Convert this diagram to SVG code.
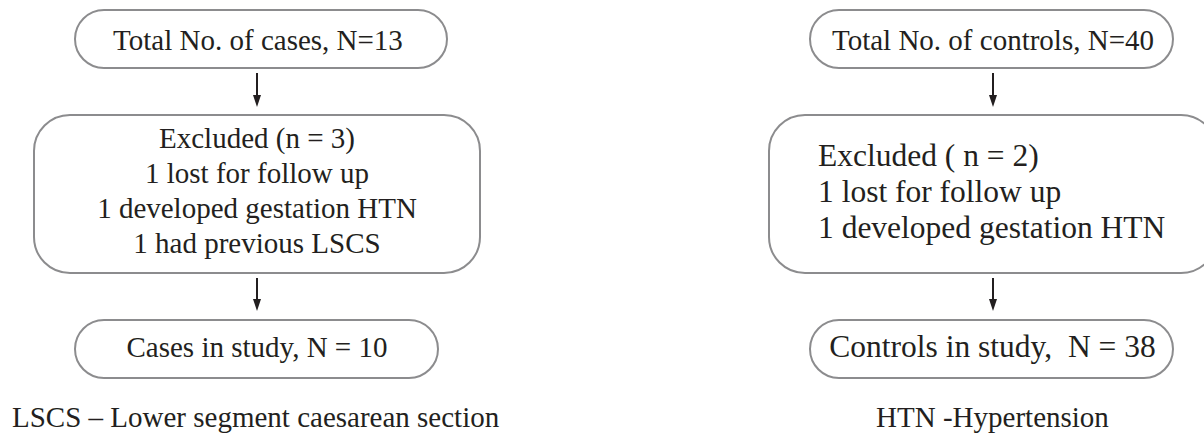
<svg xmlns="http://www.w3.org/2000/svg" width="1204" height="433" viewBox="0 0 1204 433">
<style>
.box{fill:#fff;stroke:#8c8c8e;stroke-width:2}
text{font-family:"Liberation Serif","Times New Roman",serif;fill:#231f20;font-size:29px}
.big{font-size:31.5px}
.c{text-anchor:middle}
.conn line{stroke:#231f20;stroke-width:2}
</style>
<defs>
<marker id="ah" markerWidth="8" markerHeight="12" refX="4" refY="12" orient="auto" markerUnits="userSpaceOnUse" viewBox="0 0 8 12">
<path d="M0,0 L8,0 L4,12 Z" fill="#231f20" transform="rotate(-90 4 6) translate(-2 2)"/>
</marker>
</defs>
<rect width="1204" height="433" fill="#fff"/>
<g class="conn">
<line x1="257" y1="73" x2="257" y2="96"/>
<path d="M253,95 L261,95 L257,107 Z" fill="#231f20"/>
<line x1="257" y1="278" x2="257" y2="300"/>
<path d="M253,299 L261,299 L257,311 Z" fill="#231f20"/>
<line x1="993" y1="73" x2="993" y2="96"/>
<path d="M989,95 L997,95 L993,107 Z" fill="#231f20"/>
<line x1="993" y1="278" x2="993" y2="300"/>
<path d="M989,299 L997,299 L993,311 Z" fill="#231f20"/>
</g>
<g id="cases-total">
<rect class="box" x="75" y="10" width="372" height="58" rx="29" ry="29"/>
<text class="c" x="258" y="50">Total No. of cases, N=13</text>
</g>
<g id="cases-excluded">
<rect class="box" x="34" y="115" width="446" height="158" rx="36" ry="36"/>
<text class="c" x="257" y="148">Excluded (n = 3)</text>
<text class="c" x="257" y="183">1 lost for follow up</text>
<text class="c" x="257" y="218">1 developed gestation HTN</text>
<text class="c" x="257" y="253">1 had previous LSCS</text>
</g>
<g id="cases-study">
<rect class="box" x="75" y="320" width="363" height="58" rx="29" ry="29"/>
<text class="c" x="257" y="357">Cases in study, N = 10</text>
</g>
<text x="12" y="427">LSCS – Lower segment caesarean section</text>
<g id="controls-total">
<rect class="box" x="810" y="10" width="363" height="58" rx="29" ry="29"/>
<text class="c" x="993" y="50">Total No. of controls, N=40</text>
</g>
<g id="controls-excluded">
<rect class="box" x="769" y="115" width="448" height="158" rx="36" ry="36"/>
<text class="big" x="818" y="166" xml:space="preserve">Excluded ( n = 2)</text>
<text class="big" x="818" y="202">1 lost for follow up</text>
<text class="big" x="818" y="238">1 developed gestation HTN</text>
</g>
<g id="controls-study">
<rect class="box" x="810" y="320" width="363" height="58" rx="29" ry="29"/>
<text class="c big" x="992.5" y="357" xml:space="preserve">Controls in study,  N = 38</text>
</g>
<text class="c" x="992.5" y="427">HTN -Hypertension</text>
</svg>
